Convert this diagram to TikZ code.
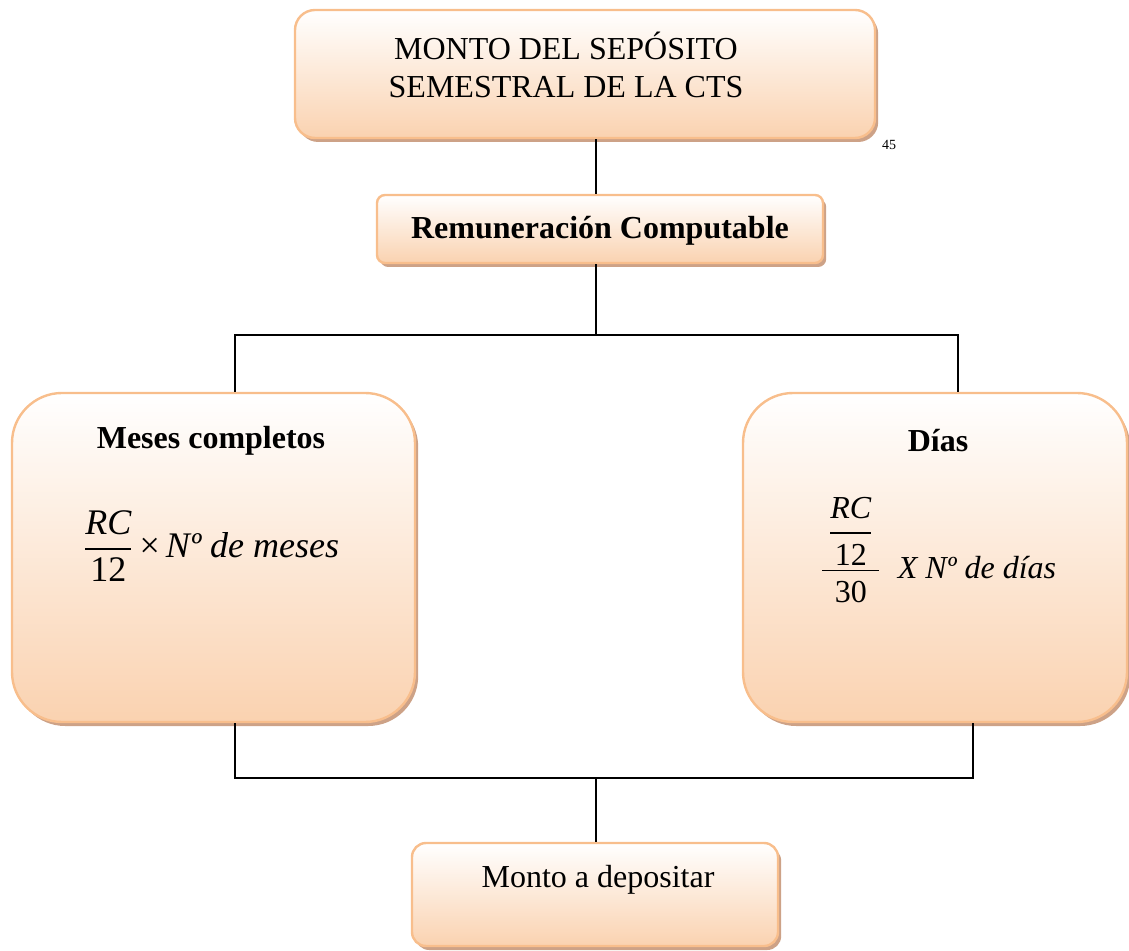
\documentclass[tikz,border=0pt]{standalone}
\usepackage{amsmath}
\usepackage{fontspec}
\setmainfont{Liberation Serif}
\usepackage{tikz}
\usetikzlibrary{shadows,positioning}

\definecolor{boxline}{HTML}{F8BE8C}
\definecolor{boxfill}{HTML}{FAD2B0}
\definecolor{boxshadow}{HTML}{CDA287}

\tikzset{
  box/.style={draw=boxline, line width=1.2pt, top color=white, bottom color=boxfill,
    drop shadow={shadow xshift=1.6pt, shadow yshift=-2pt, fill=boxshadow, opacity=1},
    inner sep=0pt},
  link/.style={black, line width=0.7pt},
  txt/.style={font=\fontsize{16}{19}\selectfont, align=center, inner sep=0pt},
  boldtxt/.style={txt, font=\fontsize{16}{19}\selectfont\bfseries}
}

\begin{document}
\begin{tikzpicture}[x=0.5pt,y=-0.5pt]
\useasboundingbox (0,0) rectangle (1129,951);

% Boxes
\node[box, rounded corners=10pt, minimum width=290pt, minimum height=64pt] (top) at (585,74) {};
\node[box, rounded corners=4pt, minimum width=223pt, minimum height=34pt] (rem) at (600,229) {};
\node[box, rounded corners=25pt, minimum width=201.5pt, minimum height=164.5pt] (meses) at (213.5,557.5) {};
\node[box, rounded corners=25pt, minimum width=192pt, minimum height=164.5pt] (dias) at (935,557.5) {};
\node[box, rounded corners=7pt, minimum width=183pt, minimum height=51.5pt] (monto) at (595,894.5) {};

% Texts
\node[txt] (toptxt) at (566,65) {MONTO DEL SEPÓSITO\\[0pt]SEMESTRAL DE LA CTS};
\node[font=\fontsize{7}{8}\selectfont, inner sep=0pt] (nota) at (889,145) {45};
\node[boldtxt] (remtxt) at (600,231) {Remuneración Computable};
\node[boldtxt] (mesestit) at (211,441) {Meses completos};
\node[boldtxt] (diastit) at (938,441) {Días};
\node[txt, font=\fontsize{18}{21}\selectfont] (mesesf) at (211,546)
  {$\dfrac{\mathit{RC}}{\mathrm{12}}$\,×\,\textit{Nº de meses}};
\node[txt] (diasf) at (938,550)
  {$\dfrac{\,\dfrac{\mathit{RC}}{\mathrm{12}}\,}{\mathrm{30}}$\ \ \textit{X Nº de días}};
\node[txt] (montotxt) at (598,880) {Monto a depositar};

% Connectors
\coordinate (j1) at (596,335);
\coordinate (j2) at (596,778);
\coordinate (l1) at (235,335);
\coordinate (r1) at (958,335);
\coordinate (l2) at (235,778);
\coordinate (r2) at (973,778);
\draw[link] (top.south -| j1) -- (rem.north -| j1);
\draw[link] (rem.south -| j1) -- (j1);
\draw[link] (meses.north -| l1) -- (l1) -- (r1) -- (dias.north -| r1);
\draw[link] (meses.south -| l2) -- (l2) -- (r2) -- (dias.south -| r2);
\draw[link] (j2) -- (monto.north -| j2);
\end{tikzpicture}
\end{document}
